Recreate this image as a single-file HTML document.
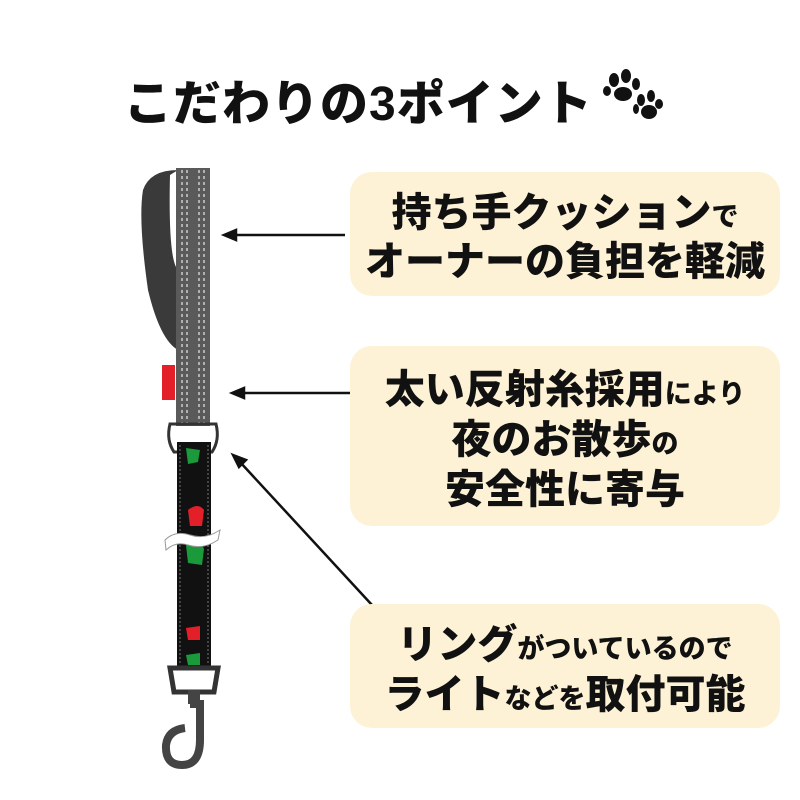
<!DOCTYPE html>
<html><head><meta charset="utf-8"><style>
body{margin:0;width:800px;height:800px;background:#fff;overflow:hidden;position:relative;font-family:"Liberation Sans","Noto Sans CJK JP",sans-serif;}
.t{position:absolute;top:64px;font-size:48px;font-weight:900;color:#111;letter-spacing:1px;}
.box{position:absolute;left:350px;width:430px;background:#fdf2d6;border-radius:22px;}
.l{position:absolute;left:0;width:100%;text-align:center;font-weight:900;color:#111;font-size:40px;line-height:1;white-space:nowrap;}
.s{font-size:27px;}
</style></head><body>
<div class="t" style="left:124px">こだわりの3ポイント</div>
<svg style="position:absolute;left:0;top:0" width="800" height="800">
 <g fill="#111">
  <ellipse cx="614" cy="80" rx="5" ry="7"/><ellipse cx="626" cy="76" rx="5" ry="7"/><ellipse cx="636" cy="84" rx="4" ry="6"/><ellipse cx="607" cy="91" rx="4" ry="5"/><ellipse cx="623" cy="94" rx="9" ry="7"/>
  <ellipse cx="641" cy="100" rx="4" ry="6"/><ellipse cx="651" cy="96" rx="4" ry="6"/><ellipse cx="659" cy="104" rx="4" ry="5"/><ellipse cx="636" cy="109" rx="3" ry="5"/><ellipse cx="649" cy="112" rx="8" ry="7"/>
 </g>
 <path d="M178 170 Q150 170 143 190 Q138 220 148 290 Q160 340 178 350 L178 270 Q168 260 170 175Z" fill="#3a3a3a"/>
 <rect x="176" y="168" width="34" height="258" fill="#5a5a5a"/>
 <g stroke="#ccc" stroke-width="1.5" stroke-dasharray="3 3"><line x1="182" y1="170" x2="182" y2="424"/><line x1="187" y1="170" x2="187" y2="424"/><line x1="199" y1="170" x2="199" y2="424"/><line x1="204" y1="170" x2="204" y2="424"/></g>
 <rect x="162" y="365" width="13" height="35" fill="#e3202a"/>
 <path d="M170 424 L216 424 Q220 440 212 452 L174 452 Q166 440 170 424Z" fill="none" stroke="#333" stroke-width="3"/>
 <rect x="177" y="442" width="34" height="225" fill="#111"/>
 <g stroke="#777" stroke-width="1" stroke-dasharray="2 2"><line x1="180" y1="445" x2="180" y2="665"/><line x1="208" y1="445" x2="208" y2="665"/></g>
 <path d="M186 448 l14 2 l-2 12 l-10 2Z" fill="#1a9a3a"/>
 <path d="M188 510 q10 -8 16 0 l-2 16 l-12 0Z" fill="#e3202a"/>
 <path d="M186 545 q14 -6 18 4 l-2 16 l-14 -2Z" fill="#1a9a3a"/>
 <path d="M186 628 l14 -2 l0 14 l-12 0Z" fill="#e3202a"/>
 <path d="M186 655 l14 -2 l0 12 l-12 0Z" fill="#1a9a3a"/>
 <path d="M165 540 q10 -10 25 -5 q15 5 30 -5 l-2 10 q-15 10 -30 5 q-12 -4 -22 5Z" fill="#fff" stroke="#999" stroke-width="1"/>
 <path d="M170 668 L218 668 L214 692 L174 692Z" fill="none" stroke="#333" stroke-width="5"/>
 <rect x="188" y="690" width="12" height="14" fill="#444"/>
 <path d="M190 704 L200 704 L200 740 Q200 765 182 765 Q165 765 166 745 Q168 730 185 728" fill="none" stroke="#444" stroke-width="8"/>
 <g stroke="#111" stroke-width="2.5" fill="#111">
  <line x1="345" y1="235" x2="232" y2="235"/><path d="M224 235 l12 -5 l0 10Z"/>
  <line x1="352" y1="393" x2="240" y2="393"/><path d="M232 393 l12 -5 l0 10Z"/>
  <line x1="372" y1="605" x2="240" y2="462"/><path d="M233 455 l13 5 l-7 7Z"/>
 </g>
</svg>
<div class="box" style="top:172px;height:124px">
 <div class="l" style="top:21px">持ち手クッション<span class="s">で</span></div>
 <div class="l" style="top:70px">オーナーの負担を軽減</div>
</div>
<div class="box" style="top:346px;height:180px">
 <div class="l" style="top:24px">太い反射糸採用<span class="s">により</span></div>
 <div class="l" style="top:74px">夜のお散歩<span class="s">の</span></div>
 <div class="l" style="top:124px">安全性に寄与</div>
</div>
<div class="box" style="top:604px;height:124px">
 <div class="l" style="top:21px">リング<span class="s">がついているので</span></div>
 <div class="l" style="top:71px">ライト<span class="s">などを</span>取付可能</div>
</div>
</body></html>
